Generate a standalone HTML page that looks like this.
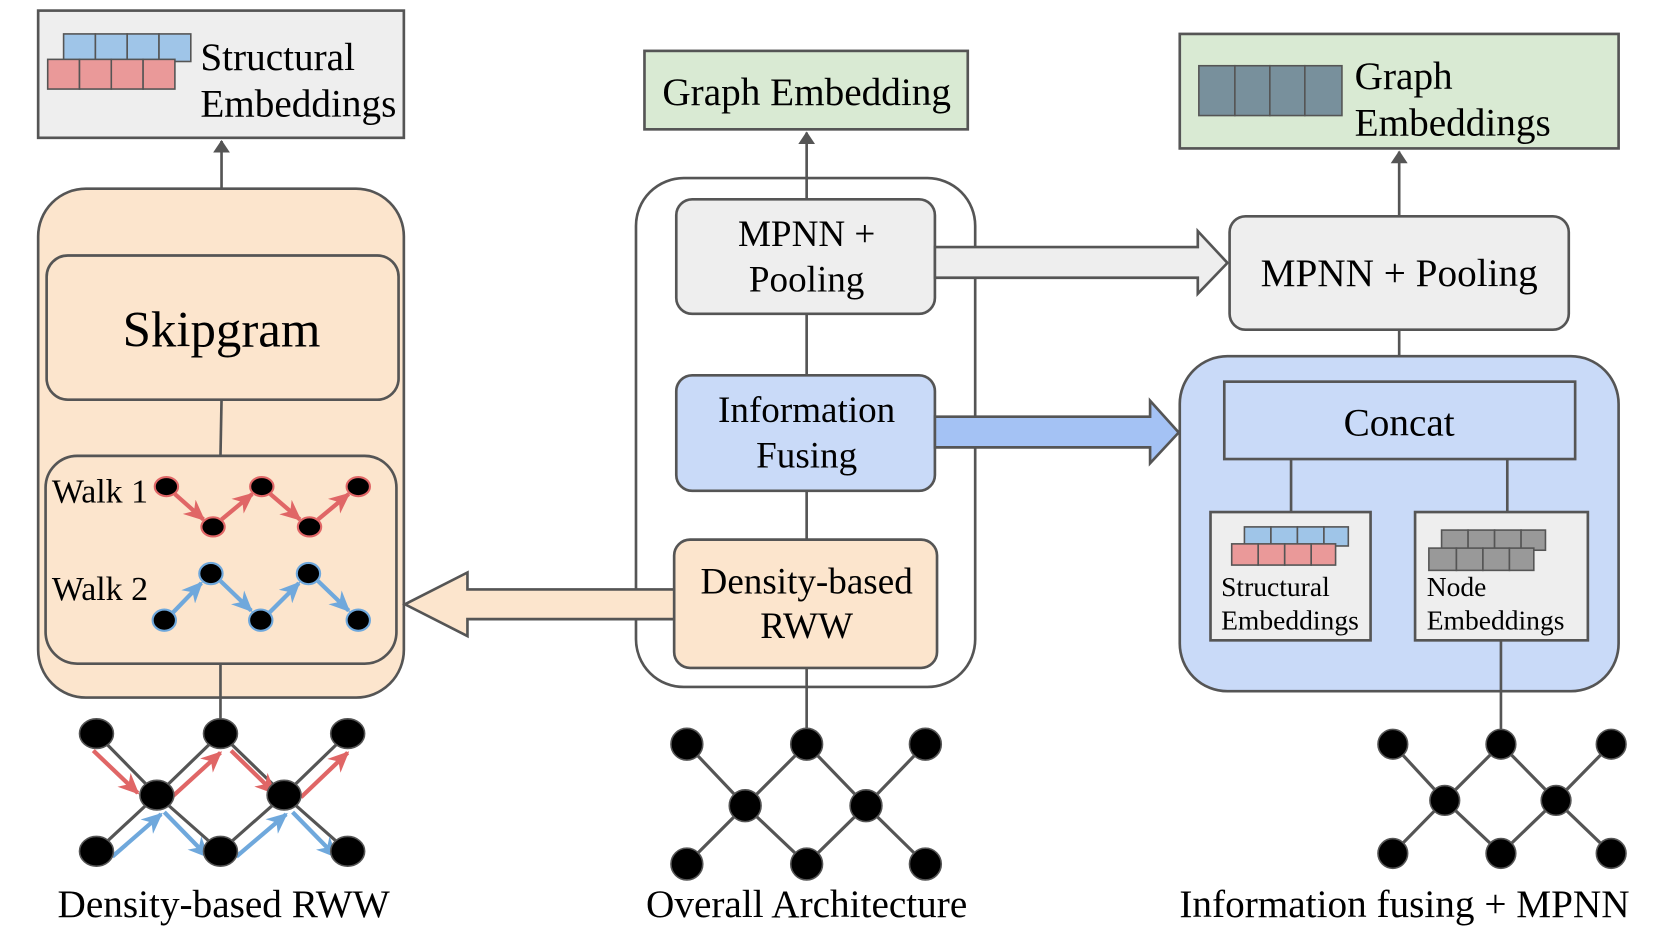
<!DOCTYPE html>
<html><head><meta charset="utf-8"><style>
html,body{margin:0;padding:0;background:#fff;}
svg{display:block;}
text{font-family:"Liberation Serif",serif;fill:#000;}
</style></head><body>
<svg width="1661" height="934" viewBox="0 0 1567 881" preserveAspectRatio="none" xmlns="http://www.w3.org/2000/svg">
<defs>
<marker id="ag" markerWidth="12" markerHeight="16" refX="11" refY="8" orient="auto" markerUnits="userSpaceOnUse"><path d="M0,0 L12,8 L0,16 z" fill="#555"/></marker>
<marker id="ar" markerWidth="20" markerHeight="18" refX="18" refY="9" orient="auto" markerUnits="userSpaceOnUse"><path d="M0,0 L20,9 L0,18 L6,9 z" fill="#e06666"/></marker>
<marker id="ab" markerWidth="20" markerHeight="18" refX="18" refY="9" orient="auto" markerUnits="userSpaceOnUse"><path d="M0,0 L20,9 L0,18 L6,9 z" fill="#6fa8dc"/></marker>
</defs>
<g stroke="#555" stroke-width="2.5">
<rect x="36" y="10" width="345" height="120" fill="#eeeeee"/>
<g fill="#9fc5e8" stroke-width="1.5"><rect x="60" y="32" width="30" height="26"/><rect x="90" y="32" width="30" height="26"/><rect x="120" y="32" width="30" height="26"/><rect x="150" y="32" width="30" height="26"/></g>
<g fill="#ea9999" stroke-width="1.5"><rect x="45" y="56" width="30" height="28"/><rect x="75" y="56" width="30" height="28"/><rect x="105" y="56" width="30" height="28"/><rect x="135" y="56" width="30" height="28"/></g>
<line x1="209" y1="240" x2="209" y2="133" marker-end="url(#ag)"/>
<rect x="36" y="178" width="345" height="480" rx="45" fill="#fce5cd"/>
<rect x="44" y="241" width="332" height="136" rx="20" fill="#fce5cd"/>
<line x1="209" y1="377" x2="208" y2="430"/>
<rect x="43" y="430" width="331" height="196" rx="30" fill="#fce5cd"/>
<line x1="208" y1="626" x2="208" y2="690"/>
<g stroke-width="4">
<line x1="165" y1="466" x2="192" y2="490" stroke="#e06666" marker-end="url(#ar)"/>
<line x1="209" y1="490" x2="238" y2="466" stroke="#e06666" marker-end="url(#ar)"/>
<line x1="255" y1="466" x2="283" y2="490" stroke="#e06666" marker-end="url(#ar)"/>
<line x1="300" y1="490" x2="329" y2="466" stroke="#e06666" marker-end="url(#ar)"/>
<line x1="163" y1="578" x2="190" y2="550" stroke="#6fa8dc" marker-end="url(#ab)"/>
<line x1="208" y1="548" x2="237" y2="576" stroke="#6fa8dc" marker-end="url(#ab)"/>
<line x1="254" y1="578" x2="282" y2="550" stroke="#6fa8dc" marker-end="url(#ab)"/>
<line x1="300" y1="548" x2="329" y2="576" stroke="#6fa8dc" marker-end="url(#ab)"/>
</g>
<g fill="#000" stroke="#e06666" stroke-width="2">
<ellipse cx="157" cy="459" rx="11" ry="9"/><ellipse cx="201" cy="497" rx="11" ry="9"/><ellipse cx="247" cy="459" rx="11" ry="9"/><ellipse cx="292" cy="497" rx="11" ry="9"/><ellipse cx="338" cy="459" rx="11" ry="9"/>
</g>
<g fill="#000" stroke="#6fa8dc" stroke-width="2">
<ellipse cx="155" cy="585" rx="11" ry="10"/><ellipse cx="199" cy="541" rx="11" ry="10"/><ellipse cx="246" cy="585" rx="11" ry="10"/><ellipse cx="291" cy="541" rx="11" ry="10"/><ellipse cx="338" cy="585" rx="11" ry="10"/>
</g>
<g stroke-width="3">
<polyline fill="none" points="91,692 148,750 208,692 268,750 328,692"/>
<polyline fill="none" points="91,803 148,750 208,803 268,750 328,803"/>
</g>
<g stroke-width="4">
<line x1="88" y1="708" x2="130" y2="748" stroke="#e06666" marker-end="url(#ar)"/>
<line x1="162" y1="752" x2="208" y2="710" stroke="#e06666" marker-end="url(#ar)"/>
<line x1="218" y1="708" x2="259" y2="748" stroke="#e06666" marker-end="url(#ar)"/>
<line x1="284" y1="752" x2="328" y2="710" stroke="#e06666" marker-end="url(#ar)"/>
<line x1="106" y1="808" x2="152" y2="768" stroke="#6fa8dc" marker-end="url(#ab)"/>
<line x1="155" y1="766" x2="196" y2="808" stroke="#6fa8dc" marker-end="url(#ab)"/>
<line x1="223" y1="808" x2="270" y2="768" stroke="#6fa8dc" marker-end="url(#ab)"/>
<line x1="276" y1="766" x2="317" y2="808" stroke="#6fa8dc" marker-end="url(#ab)"/>
</g>
<g fill="#000" stroke="#555" stroke-width="1.5">
<ellipse cx="91" cy="692" rx="16" ry="14"/><ellipse cx="208" cy="692" rx="16" ry="14"/><ellipse cx="328" cy="692" rx="16" ry="14"/>
<ellipse cx="148" cy="750" rx="16" ry="14"/><ellipse cx="268" cy="750" rx="16" ry="14"/>
<ellipse cx="91" cy="803" rx="16" ry="14"/><ellipse cx="208" cy="803" rx="16" ry="14"/><ellipse cx="328" cy="803" rx="16" ry="14"/>
</g>
<rect x="608" y="48" width="305" height="74" fill="#d9ead3"/>
<rect x="600" y="168" width="320" height="480" rx="45" fill="#fff"/>
<line x1="761" y1="188" x2="761" y2="125" marker-end="url(#ag)"/>
<line x1="761" y1="296" x2="761" y2="354"/>
<line x1="761" y1="463" x2="761" y2="509"/>
<line x1="761" y1="630" x2="761" y2="690"/>
<rect x="638" y="188" width="244" height="108" rx="15" fill="#eeeeee"/>
<rect x="638" y="354" width="244" height="109" rx="15" fill="#c9daf8"/>
<rect x="636" y="509" width="248" height="121" rx="15" fill="#fce5cd"/>
<path d="M636,556 L441,556 L441,540 L382,570 L441,600 L441,584 L636,584 Z" fill="#fce5cd"/>
<path d="M882,233 L1130,233 L1130,218 L1158,248 L1130,277 L1130,262 L882,262 Z" fill="#eeeeee"/>
<path d="M882,393 L1085,393 L1085,378 L1112,408 L1085,437 L1085,422 L882,422 Z" fill="#a4c2f4"/>
<g stroke-width="3">
<polyline fill="none" points="648,702 703,760 761,702 817,760 873,702"/>
<polyline fill="none" points="648,815 703,760 761,815 817,760 873,815"/>
</g>
<g fill="#000" stroke="#555" stroke-width="1.5">
<circle cx="648" cy="702" r="15"/><circle cx="761" cy="702" r="15"/><circle cx="873" cy="702" r="15"/>
<circle cx="703" cy="760" r="15"/><circle cx="817" cy="760" r="15"/>
<circle cx="648" cy="815" r="15"/><circle cx="761" cy="815" r="15"/><circle cx="873" cy="815" r="15"/>
</g>
<rect x="1113" y="32" width="414" height="108" fill="#d9ead3"/>
<g fill="#78909c" stroke-width="1.5"><rect x="1131" y="62" width="34" height="47"/><rect x="1165" y="62" width="33" height="47"/><rect x="1198" y="62" width="33" height="47"/><rect x="1231" y="62" width="35" height="47"/></g>
<line x1="1320" y1="204" x2="1320" y2="143" marker-end="url(#ag)"/>
<rect x="1160" y="204" width="320" height="107" rx="15" fill="#eeeeee"/>
<line x1="1320" y1="311" x2="1320" y2="360"/>
<rect x="1113" y="336" width="414" height="316" rx="45" fill="#c9daf8"/>
<rect x="1155" y="360" width="331" height="73" fill="#c9daf8"/>
<line x1="1218" y1="433" x2="1218" y2="483"/>
<line x1="1422" y1="433" x2="1422" y2="483"/>
<rect x="1142" y="483" width="151" height="121" fill="#eeeeee"/>
<rect x="1335" y="483" width="163" height="121" fill="#eeeeee"/>
<g fill="#9fc5e8" stroke-width="1.5"><rect x="1174" y="497" width="25" height="18"/><rect x="1199" y="497" width="25" height="18"/><rect x="1224" y="497" width="25" height="18"/><rect x="1249" y="497" width="23" height="18"/></g>
<g fill="#ea9999" stroke-width="1.5"><rect x="1162" y="513" width="25" height="20"/><rect x="1187" y="513" width="25" height="20"/><rect x="1212" y="513" width="25" height="20"/><rect x="1237" y="513" width="23" height="20"/></g>
<g fill="#999" stroke-width="1.5"><rect x="1360" y="500" width="25" height="19"/><rect x="1385" y="500" width="25" height="19"/><rect x="1410" y="500" width="25" height="19"/><rect x="1435" y="500" width="23" height="19"/>
<rect x="1348" y="517" width="26" height="21"/><rect x="1374" y="517" width="25" height="21"/><rect x="1399" y="517" width="25" height="21"/><rect x="1424" y="517" width="23" height="21"/></g>
<line x1="1416" y1="604" x2="1416" y2="690"/>
<g stroke-width="3">
<polyline fill="none" points="1314,702 1363,755 1416,702 1468,755 1520,702"/>
<polyline fill="none" points="1314,805 1363,755 1416,805 1468,755 1520,805"/>
</g>
<g fill="#000" stroke="#555" stroke-width="1.5">
<circle cx="1314" cy="702" r="14"/><circle cx="1416" cy="702" r="14"/><circle cx="1520" cy="702" r="14"/>
<circle cx="1363" cy="755" r="14"/><circle cx="1468" cy="755" r="14"/>
<circle cx="1314" cy="805" r="14"/><circle cx="1416" cy="805" r="14"/><circle cx="1520" cy="805" r="14"/>
</g>
</g>
<g font-size="37">
<text x="189" y="66">Structural</text>
<text x="189" y="110">Embeddings</text>
<text x="209" y="327" font-size="48" text-anchor="middle">Skipgram</text>
<text x="49" y="474" font-size="32">Walk 1</text>
<text x="49" y="566" font-size="32">Walk 2</text>
<text x="211" y="865" text-anchor="middle">Density-based RWW</text>
<text x="761" y="99" text-anchor="middle">Graph Embedding</text>
<text x="761" y="232" font-size="35" text-anchor="middle">MPNN +</text>
<text x="761" y="275" font-size="35" text-anchor="middle">Pooling</text>
<text x="761" y="398" font-size="35" text-anchor="middle">Information</text>
<text x="761" y="441" font-size="35" text-anchor="middle">Fusing</text>
<text x="761" y="560" font-size="35" text-anchor="middle">Density-based</text>
<text x="761" y="602" font-size="35" text-anchor="middle">RWW</text>
<text x="761" y="865" text-anchor="middle">Overall Architecture</text>
<text x="1278" y="84">Graph</text>
<text x="1278" y="128">Embeddings</text>
<text x="1320" y="270" text-anchor="middle">MPNN + Pooling</text>
<text x="1320" y="411" text-anchor="middle">Concat</text>
<text x="1152" y="562" font-size="26">Structural</text>
<text x="1152" y="594" font-size="26">Embeddings</text>
<text x="1346" y="562" font-size="26">Node</text>
<text x="1346" y="594" font-size="26">Embeddings</text>
<text x="1325" y="865" text-anchor="middle">Information fusing + MPNN</text>
</g>
</svg>
</body></html>
